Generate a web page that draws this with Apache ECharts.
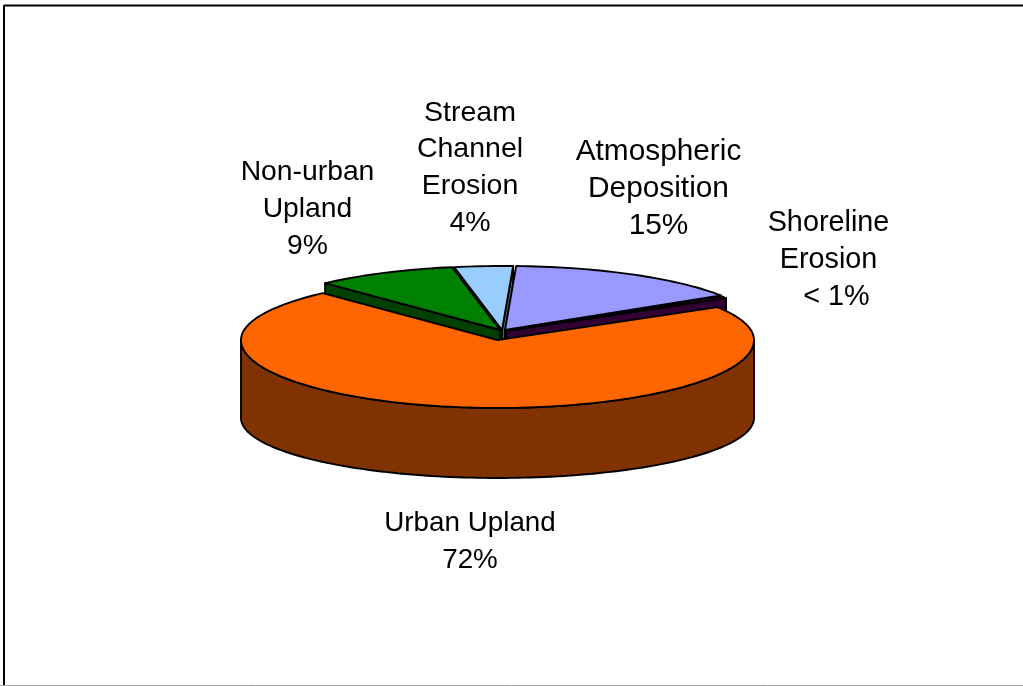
<!DOCTYPE html>
<html>
<head>
<meta charset="utf-8">
<style>html,body{margin:0;padding:0;background:#fff}#c{width:1023px;height:686px}</style>
<script src="https://cdn.jsdelivr.net/npm/echarts@6/dist/echarts.min.js"></script>
</head>
<body>
<div id="c"></div>
<script>
// Data, clockwise from the upper-left edge of the Non-urban slice; Urban last so it draws on top.
const categories = ['Non-urban\nUpland', 'Stream\nChannel\nErosion', 'Atmospheric\nDeposition', 'Shoreline\nErosion', 'Urban Upland'];
const values = [9, 3.7, 15.3, 0.5, 72];
const percentLabels = ['9%', '4%', '15%', '  < 1%', '72%'];

const topColors = ['#008000', '#99CCFF', '#9999FF', '#660066', '#FF6600'];
const sideColors = ['#004000', '#4C6680', '#4C4C80', '#330033', '#803300'];

// Layout of the tilted pie
const RX = 256.5, RY_BACK = 64, RY_FRONT = 68;
const START_DEG = 133;
const WALL_BOTTOM_Y = 418, WALL_BOTTOM_RY = 60;
const CUT_DEPTH = 70;
const sliceCenters = [[500, 330], [502, 330], [505, 330], [506, 331], [497.5, 340]];
const labelCenters = [[307.5, 209], [470, 168], [658.5, 189], [828.5, 260], [470, 542]];
const labelSizes = [28.3, 28.5, 29.8, 28.8, 27.8];
const LINE_H = 36.8;

const total = values.reduce(function (a, b) { return a + b; }, 0);
const startAngles = [];
(function () {
  let a = START_DEG;
  values.forEach(function (v) { startAngles.push(a); a -= v / total * 360; });
})();

function rimPoint(c, deg) {
  const t = deg * Math.PI / 180, s = Math.sin(t);
  return [c[0] + RX * Math.cos(t), c[1] - s * (s >= 0 ? RY_BACK : RY_FRONT)];
}
function arcPoints(c, from, to) {
  const n = Math.max(2, Math.ceil(Math.abs(from - to) / 1.5));
  const pts = [];
  for (let i = 0; i <= n; i++) pts.push(rimPoint(c, from + (to - from) * i / n));
  return pts;
}
const LINE = { stroke: '#000', lineWidth: 1.9, lineJoin: 'round' };
function poly(points, fill) {
  return { type: 'polygon', shape: { points: points }, style: Object.assign({ fill: fill }, LINE) };
}
function cutFace(c, deg, fill) {
  const p = rimPoint(c, deg);
  return poly([c, p, [p[0], p[1] + CUT_DEPTH], [c[0], c[1] + CUT_DEPTH]], fill);
}
function outerWall(c, fill) {
  const top = arcPoints(c, 180, 360);
  const bottom = [];
  for (let d = 360; d >= 180; d -= 1.5) {
    const t = d * Math.PI / 180;
    bottom.push([c[0] + RX * Math.cos(t), WALL_BOTTOM_Y - Math.sin(t) * WALL_BOTTOM_RY]);
  }
  return poly(top.concat(bottom), fill);
}

function renderItem(params, api) {
  const i = params.dataIndex;
  const span = api.value(0) / total * 360;
  const from = startAngles[i], to = from - span, c = sliceCenters[i];
  const children = [];
  if (i === values.length - 1) {
    children.push(outerWall(c, sideColors[i]));
  } else {
    // only the cut face turned toward the viewer and not hidden by a neighbour
    children.push(cutFace(c, i === 0 ? from : to, sideColors[i]));
  }
  children.push(poly([c].concat(arcPoints(c, from, to)), topColors[i]));
  return { type: 'group', children: children };
}
function renderLabel(params, api) {
  const i = params.dataIndex;
  return {
    type: 'text', x: labelCenters[i][0], y: labelCenters[i][1],
    style: {
      text: categories[i] + '\n' + percentLabels[i],
      font: labelSizes[i] + 'px "Liberation Sans", Arial, sans-serif',
      fill: '#000', align: 'center', verticalAlign: 'middle', lineHeight: LINE_H
    }
  };
}

const chart = echarts.init(document.getElementById('c'), null, { renderer: 'canvas' });
const rows = values.map(function (v, i) { return { name: categories[i], value: v }; });
chart.setOption({
  animation: false,
  backgroundColor: '#fff',
  graphic: [
    { type: 'line', shape: { x1: 4, y1: 5.5, x2: 1023, y2: 5.5 }, style: { stroke: '#000', lineWidth: 2 } },
    { type: 'line', shape: { x1: 4, y1: 5, x2: 4, y2: 686 }, style: { stroke: '#000', lineWidth: 2 } },
    { type: 'line', shape: { x1: 0, y1: 685.5, x2: 1023, y2: 685.5 }, style: { stroke: '#aaa', lineWidth: 1 } }
  ],
  series: [
    { type: 'custom', coordinateSystem: 'none', silent: true, clip: false, data: rows, renderItem: renderItem },
    { type: 'custom', coordinateSystem: 'none', silent: true, clip: false, data: rows, renderItem: renderLabel }
  ]
});
</script>
</body>
</html>
